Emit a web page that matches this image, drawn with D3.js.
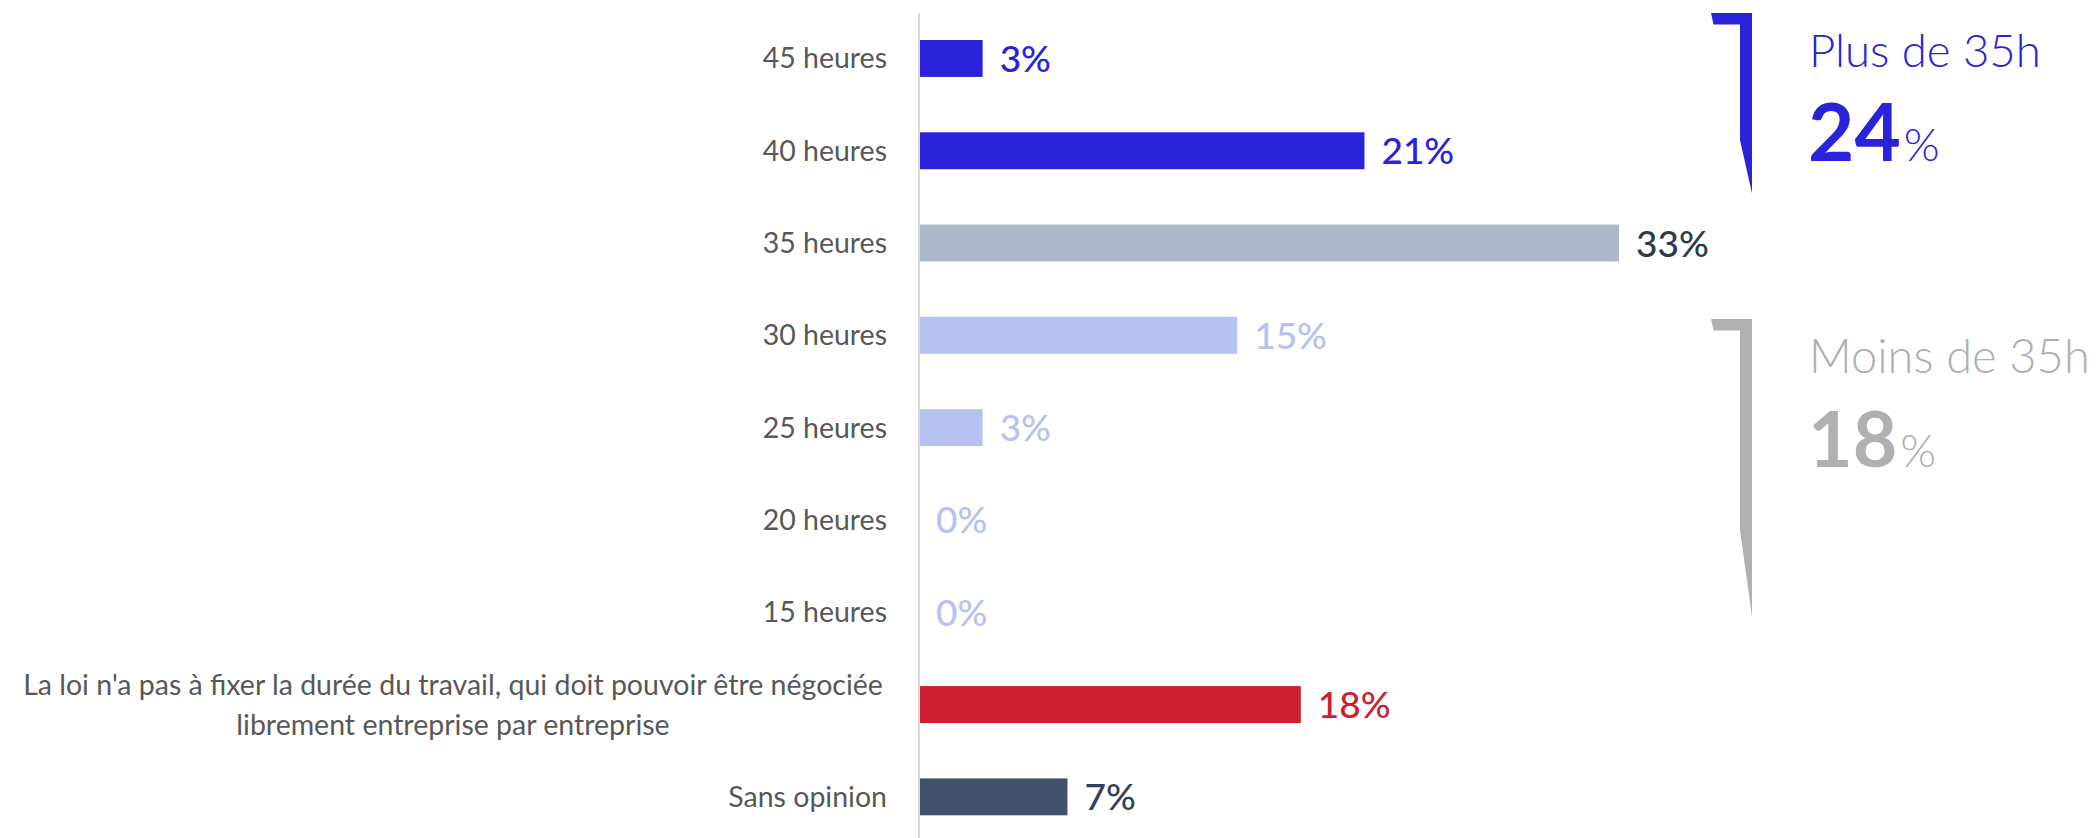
<!DOCTYPE html>
<html>
<head>
<meta charset="utf-8">
<script src="https://cdn.jsdelivr.net/npm/d3@7"></script>
<style>
  html, body { margin: 0; padding: 0; background: #ffffff; }
  svg { display: block; }
  text { font-family: Lato, "Open Sans", sans-serif; }
</style>
</head>
<body>
<svg id="chart" width="2098" height="838"></svg>
<script>
// ---- data ----
const categories = [
  "45 heures", "40 heures", "35 heures", "30 heures", "25 heures",
  "20 heures", "15 heures",
  "La loi n'a pas à fixer la durée du travail, qui doit pouvoir être négociée|librement entreprise par entreprise",
  "Sans opinion"
];
const values = [3, 21, 33, 15, 3, 0, 0, 18, 7];
const barColors = ["#2b23d9", "#2b23d9", "#adb8ca", "#b7c2f0", "#b7c2f0", "#b7c2f0", "#b7c2f0", "#ce1f31", "#42526a"];
const labelColors = ["#2b23d9", "#2b23d9", "#2e3a4d", "#b7c2f0", "#b7c2f0", "#b7c2f0", "#b7c2f0", "#ce1f31", "#34405a"];
const groupTitles = ["Plus de 35h", "Moins de 35h"];
const groupTotals = [24, 18];
const groupColors = ["#2b23d9", "#b0b0b0"];
const groupRows = [["45 heures", "40 heures"], ["30 heures", "15 heures"]];

// ---- layout ----
const svg = d3.select("#chart");
const x = d3.scaleLinear().domain([0, 33]).range([919, 1619]);
const y = d3.scaleBand().domain(categories).range([12.3, 843])
  .paddingInner(0.6).paddingOuter(0.3);
const bw = y.bandwidth();

// axis line
svg.append("line")
  .attr("x1", x(0)).attr("x2", x(0))
  .attr("y1", 13).attr("y2", 838)
  .attr("stroke", "#d9d9d9").attr("stroke-width", 2);

// bars
svg.selectAll("rect.bar").data(categories).join("rect")
  .attr("class", "bar")
  .attr("x", x(0) + 1)
  .attr("y", d => y(d))
  .attr("width", (d, i) => Math.max(0, x(values[i]) - x(0) - 1))
  .attr("height", bw)
  .attr("fill", (d, i) => barColors[i]);

// value labels
svg.selectAll("text.val").data(categories).join("text")
  .attr("class", "val")
  .attr("x", (d, i) => x(values[i]) + 17)
  .attr("y", d => y(d) + bw / 2 + 13.5)
  .attr("font-size", 37)
  .attr("font-weight", 500)
  .attr("fill", (d, i) => labelColors[i])
  .text((d, i) => values[i] + "%");

// category labels
const catG = svg.selectAll("g.cat").data(categories).join("g").attr("class", "cat");
catG.each(function(d) {
  const lines = d.split("|");
  const g = d3.select(this);
  const cy = y(d) + bw / 2;
  if (lines.length === 1) {
    g.append("text")
      .attr("x", 887).attr("y", cy + 10)
      .attr("text-anchor", "end")
      .attr("font-size", 28.5)
      .attr("fill", "#585858")
      .text(lines[0]);
  } else {
    const lh = 40;
    lines.forEach((ln, k) => {
      g.append("text")
        .attr("x", 453)
        .attr("y", cy + 10 + (k - (lines.length - 1) / 2) * lh)
        .attr("text-anchor", "middle")
        .attr("font-size", 28.5)
        .attr("fill", "#585858")
        .text(ln);
    });
  }
});

// brackets + group summaries
function bracket(top, bottom, taperStart, color) {
  const xl = 1711, xr = 1752, xi = 1740, th = 11.5;
  const p = d3.path();
  p.moveTo(xl, top);
  p.lineTo(xr, top);
  p.lineTo(xr, bottom);
  p.lineTo(xi, taperStart);
  p.lineTo(xi, top + th);
  p.lineTo(xl + 2.5, top + th);
  p.closePath();
  svg.append("path").attr("d", p.toString()).attr("fill", color);
}
const bTop0 = y(groupRows[0][0]) - 27;
const bBot0 = y(groupRows[0][1]) + bw + 24;
bracket(bTop0, bBot0, bBot0 - 53, groupColors[0]);
const bTop1 = y(groupRows[1][0]) + 2;
const bBot1 = y(groupRows[1][1]) + bw - 14;
bracket(bTop1, bBot1, bBot1 - 87, groupColors[1]);

const tops = [bTop0, bTop1];
const titleSizes = [45.5, 47];
const totalSizes = [80, 77];
groupTitles.forEach((t, i) => {
  const ty = tops[i];
  svg.append("text")
    .attr("x", 1809).attr("y", ty + 54)
    .attr("font-size", titleSizes[i])
    .attr("font-weight", 300)
    .attr("fill", groupColors[i])
    .text(t);
  const tt = svg.append("text")
    .attr("x", 1808).attr("y", ty + 148)
    .attr("fill", groupColors[i]);
  tt.append("tspan").attr("font-size", totalSizes[i]).attr("font-weight", 700).text(groupTotals[i]);
  tt.append("tspan").attr("dx", 3).attr("font-size", 46).attr("font-weight", 300).text("%");
});
</script>
</body>
</html>
